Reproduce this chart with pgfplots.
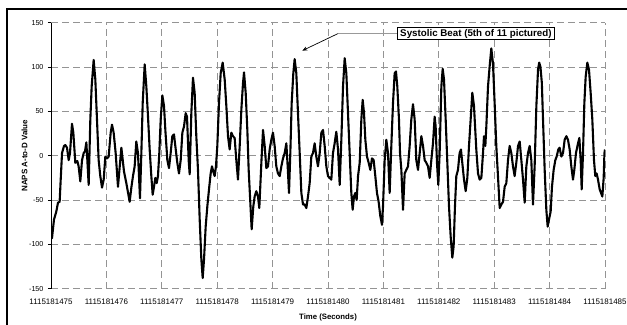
\documentclass[border=0pt]{standalone}
\usepackage{fontspec}
\setmainfont{Liberation Sans}
\usepackage{pgfplots}
\pgfplotsset{compat=1.18}
\usetikzlibrary{arrows.meta}
\begin{document}
\begin{tikzpicture}
\path[use as bounding box] (0,0) rectangle (627bp,325bp);
\clip (0,0) rectangle (627bp,325bp);
\draw[line width=1.3bp] (7bp,-10bp) -- (7bp,316bp) -- (640bp,316bp);
\begin{axis}[
  at={(51bp,36.3bp)}, anchor=south west,
  scale only axis, width=554bp, height=266bp,
  xmin=0, xmax=10, ymin=-150, ymax=150,
  xtick={0,1,...,10},
  xticklabels={1115181475,1115181476,1115181477,1115181478,1115181479,1115181480,1115181481,1115181482,1115181483,1115181484,1115181485},
  ytick={-150,-100,-50,0,50,100,150},
  /pgf/number format/assume math mode=true,
  grid=major,
  major grid style={color=black!42, line width=0.8bp, dash pattern=on 7bp off 4bp},
  axis lines*=left,
  x axis line style={draw=none},
  y axis line style={line width=1bp, black},
  tick align=outside, major tick length=3bp,
  xtick style={draw=none},
  ytick style={black, line width=0.8bp},
  xticklabel style={font=\fontsize{8}{9}\selectfont, yshift=-3.5bp},
  yticklabel style={font=\fontsize{7.2}{8}\selectfont, xshift=-1bp},
  xlabel={Time (Seconds)},
  ylabel={NAPS A-to-D Value},
  xlabel style={font=\bfseries\fontsize{7.8}{9}\selectfont, at={(axis description cs:0.5,0)}, anchor=center, yshift=-28.5bp},
  ylabel style={font=\bfseries\fontsize{8}{9}\selectfont, at={(axis description cs:0,0.5)}, anchor=center, rotate=0, yshift=26.5bp},
]
\addplot[black, line width=2.1bp, line join=round, mark=none] coordinates {
(0.000,-88) (0.018,-93) (0.054,-72) (0.096,-63) (0.126,-53) (0.156,-52) (0.175,-27) (0.199,3) (0.235,11) (0.259,12)
(0.289,9) (0.319,-5) (0.343,3) (0.379,36) (0.403,26) (0.439,-8) (0.475,-6) (0.499,-12) (0.529,-29) (0.560,-5)
(0.590,3) (0.614,5) (0.638,15) (0.656,-5) (0.680,-33) (0.710,41) (0.734,78) (0.770,108) (0.800,86) (0.830,41)
(0.860,-5) (0.890,-23) (0.921,-36) (0.951,-27) (0.981,-1) (1.011,-3) (1.041,-1) (1.077,26) (1.101,35) (1.131,26)
(1.167,3) (1.209,-35) (1.270,9) (1.318,-18) (1.360,-31) (1.420,-52) (1.450,-36) (1.480,-23) (1.510,-12) (1.540,16)
(1.570,3) (1.606,-48) (1.631,3) (1.655,59) (1.691,103) (1.721,78) (1.751,44) (1.781,7) (1.811,-23) (1.835,-44)
(1.859,-35) (1.883,-25) (1.907,-31) (1.931,-23) (1.955,3) (1.980,41) (2.010,68) (2.040,56) (2.064,29) (2.100,-5)
(2.130,-14) (2.160,3) (2.190,22) (2.220,24) (2.244,11) (2.280,-8) (2.310,-20) (2.341,-5) (2.371,26) (2.401,33)
(2.431,48) (2.455,44) (2.485,-5) (2.503,-21) (2.533,48) (2.563,88) (2.593,71) (2.623,22) (2.653,-16) (2.684,-72)
(2.714,-117) (2.738,-138) (2.762,-117) (2.792,-80) (2.822,-57) (2.852,-38) (2.882,-20) (2.906,-12) (2.930,-18) (2.954,-23)
(2.978,-12) (3.002,11) (3.032,59) (3.063,93) (3.099,105) (3.135,86) (3.165,56) (3.195,22) (3.225,7) (3.255,26)
(3.285,22) (3.315,20) (3.345,-5) (3.375,-27) (3.406,11) (3.436,52) (3.466,82) (3.484,94) (3.514,71) (3.544,29)
(3.568,-16) (3.598,-53) (3.622,-83) (3.652,-57) (3.676,-46) (3.706,-40) (3.736,-46) (3.760,-59) (3.797,-8) (3.827,29)
(3.857,11) (3.887,-14) (3.917,-12) (3.947,7) (3.977,18) (4.007,26) (4.037,11) (4.067,-12) (4.097,-20) (4.128,-23)
(4.158,-12) (4.188,-3) (4.218,3) (4.248,14) (4.272,-12) (4.296,-42) (4.320,3) (4.344,59) (4.374,93) (4.398,109)
(4.428,93) (4.458,48) (4.489,3) (4.519,-42) (4.549,-55) (4.579,-55) (4.609,-59) (4.639,-46) (4.669,-31) (4.699,-1)
(4.729,3) (4.759,14) (4.789,-1) (4.819,-12) (4.850,3) (4.880,26) (4.910,29) (4.940,11) (4.970,-12) (5.000,-23)
(5.030,-25) (5.060,-27) (5.090,3) (5.120,14) (5.150,27) (5.181,7) (5.211,-33) (5.241,18) (5.271,78) (5.301,110)
(5.331,93) (5.361,48) (5.391,3) (5.421,-42) (5.445,-61) (5.469,-46) (5.493,-42) (5.517,-50) (5.542,-23) (5.572,-8)
(5.602,41) (5.626,63) (5.650,48) (5.674,18) (5.704,-1) (5.734,-8) (5.764,-16) (5.794,-3) (5.824,-5) (5.854,-23)
(5.884,-42) (5.914,-52) (5.944,-68) (5.975,-78) (5.993,-57) (6.023,-5) (6.053,18) (6.083,3) (6.113,-42) (6.143,11)
(6.173,59) (6.203,93) (6.227,95) (6.251,78) (6.281,41) (6.300,3) (6.324,-16) (6.354,-61) (6.384,-20) (6.414,-16)
(6.444,-12) (6.474,11) (6.504,41) (6.534,58) (6.564,41) (6.594,-5) (6.625,-16) (6.655,3) (6.685,22) (6.715,11)
(6.745,-5) (6.775,-8) (6.805,-12) (6.835,-25) (6.865,-5) (6.895,14) (6.925,44) (6.943,33) (6.967,-8) (6.991,-33)
(7.015,3) (7.046,78) (7.070,98) (7.094,86) (7.124,41) (7.154,-8) (7.184,-57) (7.214,-91) (7.244,-115) (7.268,-102)
(7.292,-57) (7.316,-23) (7.346,-16) (7.376,3) (7.400,7) (7.424,-8) (7.455,-27) (7.485,-40) (7.515,-25) (7.545,11)
(7.575,41) (7.605,71) (7.635,56) (7.677,7) (7.708,-20) (7.738,-27) (7.768,-25) (7.798,3) (7.816,22) (7.840,11)
(7.858,33) (7.888,78) (7.918,101) (7.948,121) (7.978,104) (8.008,59) (8.038,11) (8.068,-23) (8.099,-59) (8.129,-55)
(8.159,-52) (8.189,-35) (8.219,-31) (8.249,-5) (8.279,11) (8.309,3) (8.339,-12) (8.369,-23) (8.399,-8) (8.430,11)
(8.460,16) (8.490,-5) (8.520,-27) (8.550,-53) (8.580,-12) (8.610,3) (8.640,11) (8.670,-5) (8.700,-55) (8.730,-12)
(8.761,56) (8.791,97) (8.812,105) (8.835,100) (8.860,82) (8.881,41) (8.911,-16) (8.941,-61) (8.965,-80) (8.989,-72)
(9.019,-63) (9.043,-35) (9.073,-16) (9.103,-5) (9.127,-1) (9.157,7) (9.181,9) (9.212,-1) (9.242,3) (9.272,18)
(9.302,22) (9.332,18) (9.362,7) (9.392,-12) (9.422,-27) (9.446,-16) (9.476,3) (9.513,14) (9.537,20) (9.561,-5)
(9.579,-38) (9.603,3) (9.627,59) (9.651,89) (9.681,105) (9.711,97) (9.741,71) (9.771,41) (9.801,-5) (9.825,-23)
(9.849,-20) (9.874,-27) (9.904,-38) (9.928,-42) (9.952,-46) (9.976,-25) (9.990,3) (10.000,7)
};
\draw[color=black!40, line width=0.9bp] (axis cs:6.24,137.7) -- (axis cs:5.18,137.7);
\draw[-{Stealth[length=5bp,width=4bp]}, line width=0.7bp] (axis cs:5.18,137.7) -- (axis cs:4.536,118.5);
\node[draw, fill=white, line width=0.9bp, inner xsep=2.5bp, inner ysep=1.2bp, font=\bfseries\fontsize{9.8}{11}\selectfont] at (axis cs:7.67,137.7) {Systolic Beat (5th of 11 pictured)};
\end{axis}
\end{tikzpicture}
\end{document}
